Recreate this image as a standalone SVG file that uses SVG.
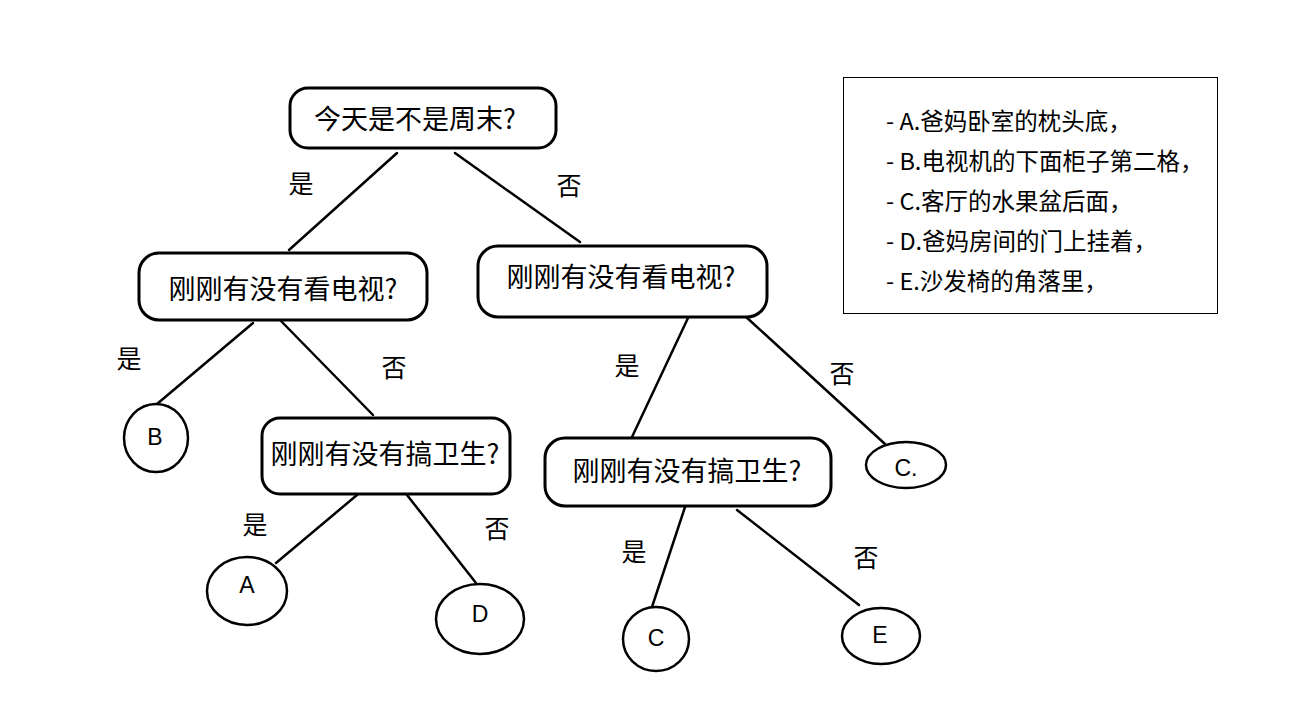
<svg xmlns="http://www.w3.org/2000/svg" width="1301" height="710" viewBox="0 0 1301 710">
<style>
.node rect{fill:#fff;stroke:#000;stroke-width:3}
.leaf ellipse{fill:#fff;stroke:#000;stroke-width:2.5}
.q{font-family:"Noto Sans CJK SC","Liberation Sans",sans-serif;font-size:27px;fill:#000;text-anchor:middle;dominant-baseline:central}
.lt{font-family:"Liberation Sans","Noto Sans CJK SC",sans-serif;font-size:23px;fill:#000;text-anchor:middle;dominant-baseline:central}
.lbl{font-family:"Noto Sans CJK SC",sans-serif;font-size:25px;fill:#000;text-anchor:middle;dominant-baseline:central}
.leg{font-family:"Noto Sans CJK SC",sans-serif;font-size:23.5px;fill:#000;dominant-baseline:central}
#connectors line{stroke:#000;stroke-width:2.5;stroke-linecap:round}
</style>
<rect width="1301" height="710" fill="#fff"/>
<g id="connectors">
<line x1="397" y1="153" x2="289" y2="250"/>
<line x1="455" y1="153" x2="580" y2="242"/>
<line x1="253" y1="323" x2="157" y2="404"/>
<line x1="281" y1="321" x2="373" y2="415"/>
<line x1="688" y1="318" x2="632" y2="437"/>
<line x1="745" y1="316" x2="885" y2="444"/>
<line x1="357" y1="495" x2="276" y2="563"/>
<line x1="407" y1="495" x2="476" y2="583"/>
<line x1="685" y1="507" x2="652" y2="607"/>
<line x1="737" y1="510" x2="859" y2="605"/>
</g>
<g id="labels">
<text class="lbl" x="301" y="182">是</text>
<text class="lbl" x="569" y="184">否</text>
<text class="lbl" x="129" y="357">是</text>
<text class="lbl" x="394" y="366">否</text>
<text class="lbl" x="627" y="364">是</text>
<text class="lbl" x="842" y="372">否</text>
<text class="lbl" x="255" y="523">是</text>
<text class="lbl" x="497" y="527">否</text>
<text class="lbl" x="634" y="550">是</text>
<text class="lbl" x="866" y="556">否</text>
</g>
<g id="n-weekend" class="node">
<rect x="290" y="88" width="266" height="60" rx="18"/>
<text class="q" x="415" y="117">今天是不是周末?</text>
</g>
<g id="n-tv-left" class="node">
<rect x="139" y="253" width="288" height="67" rx="20"/>
<text class="q" x="283" y="287">刚刚有没有看电视?</text>
</g>
<g id="n-tv-right" class="node">
<rect x="478" y="246" width="289" height="71" rx="20"/>
<text class="q" x="621" y="275">刚刚有没有看电视?</text>
</g>
<g id="n-clean-left" class="node">
<rect x="262" y="418" width="248" height="76" rx="18"/>
<text class="q" x="385" y="452">刚刚有没有搞卫生?</text>
</g>
<g id="n-clean-right" class="node">
<rect x="545" y="438" width="286" height="68" rx="20"/>
<text class="q" x="687" y="469">刚刚有没有搞卫生?</text>
</g>
<g id="leaf-B" class="leaf">
<ellipse cx="156" cy="438" rx="32" ry="34"/>
<text class="lt" x="155" y="437">B</text>
</g>
<g id="leaf-C1" class="leaf">
<ellipse cx="906" cy="465" rx="40" ry="23"/>
<text class="lt" x="906" y="468">C.</text>
</g>
<g id="leaf-A" class="leaf">
<ellipse cx="247" cy="591" rx="40" ry="34"/>
<text class="lt" x="247" y="585">A</text>
</g>
<g id="leaf-D" class="leaf">
<ellipse cx="480" cy="619" rx="44" ry="35"/>
<text class="lt" x="480" y="614">D</text>
</g>
<g id="leaf-C2" class="leaf">
<ellipse cx="656" cy="639" rx="33" ry="32"/>
<text class="lt" x="656" y="638">C</text>
</g>
<g id="leaf-E" class="leaf">
<ellipse cx="881" cy="636" rx="39" ry="28"/>
<text class="lt" x="880" y="635">E</text>
</g>
<g id="legend">
<rect x="843.5" y="77.5" width="374" height="236" fill="#fff" stroke="#000" stroke-width="1"/>
<text class="leg" x="886" y="120">- A.爸妈卧室的枕头底，</text>
<text class="leg" x="886" y="160">- B.电视机的下面柜子第二格，</text>
<text class="leg" x="886" y="200">- C.客厅的水果盆后面，</text>
<text class="leg" x="886" y="240">- D.爸妈房间的门上挂着，</text>
<text class="leg" x="886" y="280">- E.沙发椅的角落里，</text>
</g>
</svg>
